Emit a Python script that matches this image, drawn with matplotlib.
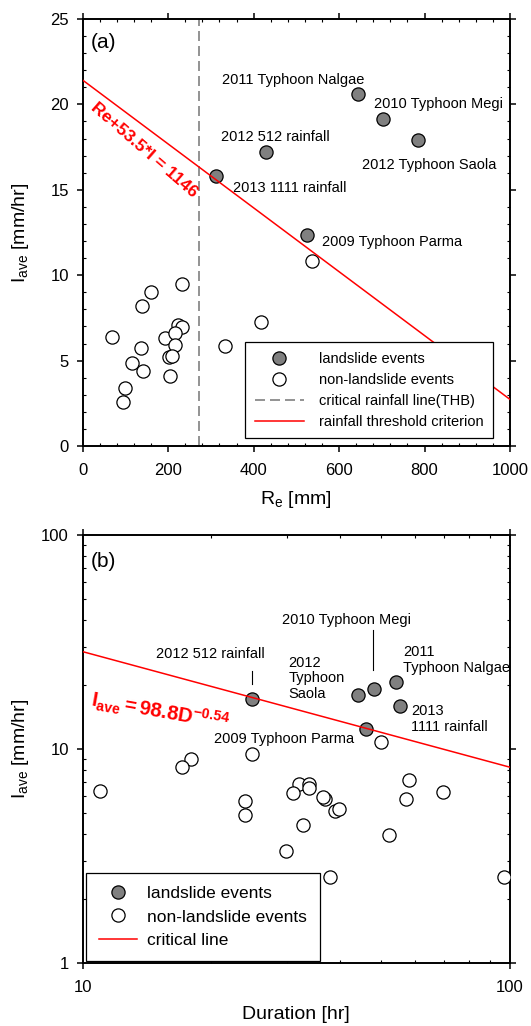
import matplotlib
matplotlib.use("Agg")
import numpy as np
import matplotlib.pyplot as plt
from matplotlib.lines import Line2D
from matplotlib.ticker import AutoMinorLocator, LogLocator, NullFormatter, FixedLocator, FixedFormatter

plt.rcParams["font.family"] = ["Liberation Sans", "DejaVu Sans"]
plt.rcParams["mathtext.fontset"] = "custom"
plt.rcParams["mathtext.rm"] = "Liberation Sans"
plt.rcParams["mathtext.it"] = "Liberation Sans:italic"
plt.rcParams["mathtext.bf"] = "Liberation Sans:bold"

# ---- panel (a): effective rainfall vs average intensity ----
re_slide = [645, 703, 785, 428, 313, 525]
iave_slide_a = [20.6, 19.15, 17.9, 17.2, 15.8, 12.35]

re_non = [537, 233, 161, 138, 68, 136, 193, 224, 233, 216, 216, 202, 208,
          115, 142, 204, 417, 333, 98, 95]
iave_non_a = [10.85, 9.48, 9.02, 8.2, 6.4, 5.76, 6.3, 7.08, 6.95, 6.6, 5.91,
              5.19, 5.27, 4.84, 4.41, 4.1, 7.28, 5.87, 3.37, 2.58]

thb_re = 272                     # critical rainfall line (THB)
crit_a = (1146, 53.5)            # Re + 53.5*I = 1146

labels_a = ["2011 Typhoon Nalgae", "2010 Typhoon Megi", "2012 512 rainfall",
            "2012 Typhoon Saola", "2013 1111 rainfall", "2009 Typhoon Parma"]
label_re_a = [493, 832, 452, 810, 484, 725]
label_i_a = [21.4, 20.0, 18.07, 16.45, 15.09, 11.96]

# ---- panel (b): duration vs average intensity ----
dur_slide = [24.9, 44.0, 48.0, 54.0, 55.2, 46.0]
iave_slide_b = [17.1, 17.9, 19.1, 20.6, 15.8, 12.4]

dur_non = [50, 24.9, 17.9, 17.05, 58.1, 32.1, 33.9, 33.9, 10.96, 31.0, 69.8,
           57.1, 36.9, 36.6, 24.0, 38.9, 39.9, 24.0, 32.8, 52.1, 29.9, 38.0, 96.8]
iave_non_b = [10.8, 9.47, 8.94, 8.26, 7.2, 6.89, 6.86, 6.54, 6.36, 6.25, 6.3,
              5.82, 5.82, 5.95, 5.7, 5.15, 5.22, 4.92, 4.42, 3.96, 3.34, 2.53, 2.53]

crit_b = (98.8, -0.54)           # Iave = 98.8 D^-0.54

labels_b = ["2010 Typhoon Megi", "2012 512 rainfall", "2012\nTyphoon\nSaola",
            "2011\nTyphoon Nalgae", "2013\n1111 rainfall", "2009 Typhoon Parma"]
label_d_b = [41.5, 19.9, 30.3, 56.3, 58.7, 29.6]
label_i_b = [40.1, 27.8, 21.4, 26.1, 13.8, 11.17]
label_ha_b = ["center", "center", "left", "left", "left", "center"]
leaders_b = [(47.7, 23.4, 36.0), (24.9, 20.1, 23.2)]   # x, y0, y1

GRAY = "#808080"
MS = 9.5


def style_axis(ax):
    for s in ax.spines.values():
        s.set_linewidth(1.4)
    ax.tick_params(which="major", direction="out", length=4, width=1.1,
                   top=True, right=True, labelsize=12)
    ax.tick_params(axis="x", which="major", pad=8)
    ax.tick_params(axis="y", which="major", pad=6)
    ax.tick_params(which="minor", direction="in", length=2.5, width=0.8,
                   top=True, right=True)


fig = plt.figure(figsize=(5.31, 10.26), dpi=100)
ax1 = fig.add_axes([0.1557, 0.5653, 0.8047, 0.4162])
ax2 = fig.add_axes([0.1557, 0.0614, 0.8047, 0.4172])

# panel (a)
ax1.plot(re_non, iave_non_a, "o", ms=MS, mfc="white", mec="black", mew=0.9, zorder=3)
ax1.plot(re_slide, iave_slide_a, "o", ms=MS, mfc=GRAY, mec="black", mew=0.9, zorder=3)
ax1.axvline(thb_re, color=GRAY, lw=1.2, dashes=(6, 3), zorder=2)
re_line = np.array([0, 1000])
ax1.plot(re_line, (crit_a[0] - re_line) / crit_a[1], color="red", lw=1.1, zorder=4)

for txt, x, y in zip(labels_a, label_re_a, label_i_a):
    ax1.text(x, y, txt, fontsize=10.5, ha="center", va="center")
ax1.text(143, 17.3, "Re+53.5*I = 1146", color="red", fontsize=12.5, fontweight="bold",
         rotation=-41, ha="center", va="center", rotation_mode="anchor")
ax1.text(0.018, 0.945, "(a)", transform=ax1.transAxes, fontsize=15, va="center")

ax1.set_xlim(0, 1000)
ax1.set_ylim(0, 25)
ax1.set_xticks([0, 200, 400, 600, 800, 1000])
ax1.set_yticks([0, 5, 10, 15, 20, 25])
ax1.xaxis.set_minor_locator(AutoMinorLocator(5))
ax1.yaxis.set_minor_locator(AutoMinorLocator(5))
style_axis(ax1)
ax1.set_xlabel(r"R$_\mathrm{e}$ [mm]", fontsize=14, labelpad=8)
ax1.set_ylabel(r"I$_\mathrm{ave}$ [mm/hr]", fontsize=14)
ax1.yaxis.set_label_coords(-0.12, 0.5)

h_a = [Line2D([], [], marker="o", ls="none", ms=MS, mfc=GRAY, mec="black", mew=0.9),
       Line2D([], [], marker="o", ls="none", ms=MS, mfc="white", mec="black", mew=0.9),
       Line2D([], [], color=GRAY, lw=1.2, dashes=(6, 3)),
       Line2D([], [], color="red", lw=1.1)]
leg = ax1.legend(h_a, ["landslide events", "non-landslide events",
                       "critical rainfall line(THB)", "rainfall threshold criterion"],
                 loc="lower left", bbox_to_anchor=(0.38, 0.018), borderaxespad=0,
                 fontsize=10.5, handlelength=3.4, handletextpad=1.0, labelspacing=0.48,
                 borderpad=0.65, fancybox=False, edgecolor="black", framealpha=1)
leg.get_frame().set_linewidth(0.9)

# panel (b)
ax2.set_xscale("log")
ax2.set_yscale("log")
ax2.plot(dur_non, iave_non_b, "o", ms=MS, mfc="white", mec="black", mew=0.9, zorder=3)
ax2.plot(dur_slide, iave_slide_b, "o", ms=MS, mfc=GRAY, mec="black", mew=0.9, zorder=3)
d_line = np.array([10, 100])
ax2.plot(d_line, crit_b[0] * d_line ** crit_b[1], color="red", lw=1.1, zorder=4)

for txt, x, y, ha in zip(labels_b, label_d_b, label_i_b, label_ha_b):
    ax2.text(x, y, txt, fontsize=10.5, ha=ha, va="center", linespacing=1.15)
for x, y0, y1 in leaders_b:
    ax2.plot([x, x], [y0, y1], color="black", lw=0.8)
ax2.text(15.2, 14.9, r"$\mathbf{I_{ave}=98.8D^{-0.54}}$", color="red", fontsize=14.5,
         rotation=-10, ha="center", va="center", rotation_mode="anchor")
ax2.text(0.018, 0.938, "(b)", transform=ax2.transAxes, fontsize=15, va="center")

ax2.set_xlim(10, 100)
ax2.set_ylim(1, 100)
ax2.xaxis.set_major_locator(FixedLocator([10, 100]))
ax2.xaxis.set_major_formatter(FixedFormatter(["10", "100"]))
ax2.yaxis.set_major_locator(FixedLocator([1, 10, 100]))
ax2.yaxis.set_major_formatter(FixedFormatter(["1", "10", "100"]))
ax2.xaxis.set_minor_locator(LogLocator(base=10, subs=range(2, 10)))
ax2.yaxis.set_minor_locator(LogLocator(base=10, subs=range(2, 10)))
ax2.xaxis.set_minor_formatter(NullFormatter())
ax2.yaxis.set_minor_formatter(NullFormatter())
style_axis(ax2)
ax2.set_xlabel("Duration [hr]", fontsize=14, labelpad=8)
ax2.set_ylabel(r"I$_\mathrm{ave}$ [mm/hr]", fontsize=14)
ax2.yaxis.set_label_coords(-0.12, 0.5)

h_b = [Line2D([], [], marker="o", ls="none", ms=MS, mfc=GRAY, mec="black", mew=0.9),
       Line2D([], [], marker="o", ls="none", ms=MS, mfc="white", mec="black", mew=0.9),
       Line2D([], [], color="red", lw=1.1)]
leg2 = ax2.legend(h_b, ["landslide events", "non-landslide events", "critical line"],
                  loc="lower left", bbox_to_anchor=(0.007, 0.005), borderaxespad=0,
                  fontsize=12.5, handlelength=2.2, handletextpad=0.6, labelspacing=0.47,
                  borderpad=0.75, fancybox=False, edgecolor="black", framealpha=1)
leg2.get_frame().set_linewidth(0.9)

fig.savefig("out.png", dpi=100)
